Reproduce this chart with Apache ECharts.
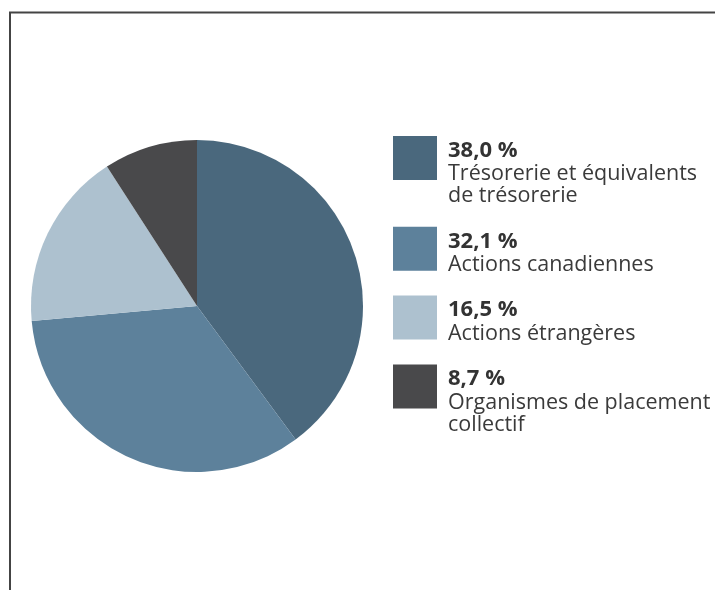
<!DOCTYPE html>
<html>
<head>
<meta charset="utf-8">
<script src="https://cdn.jsdelivr.net/npm/echarts@6/dist/echarts.min.js"></script>
<style>
html,body{margin:0;padding:0;background:#fff;}
#chart{width:715px;height:590px;}
</style>
</head>
<body>
<div id="chart"></div>
<script>
const categories = [
  ['Trésorerie et équivalents', 'de trésorerie'],
  ['Actions canadiennes'],
  ['Actions étrangères'],
  ['Organismes de placement', 'collectif']
];
const values = [38.0, 32.1, 16.5, 8.7];
const valueLabels = ['38,0 %', '32,1 %', '16,5 %', '8,7 %'];
const colors = ['#4a687d', '#5d819b', '#adc1cf', '#49494b'];

const chart = echarts.init(document.getElementById('chart'), null, {renderer: 'canvas'});

const FONT = '"Open Sans", sans-serif';
const legendX = 393, textX = 448, startY = 136, iconSize = 44;
const valueLH = 25, nameLH = 22, gap = 21.8;

const graphics = [
  {type: 'line', shape: {x1: 9, y1: 12.5, x2: 715, y2: 12.5}, style: {stroke: '#444', lineWidth: 2}},
  {type: 'line', shape: {x1: 10, y1: 12, x2: 10, y2: 590}, style: {stroke: '#444', lineWidth: 2}}
];
let y = startY;
categories.forEach((lines, i) => {
  graphics.push({type: 'rect', shape: {x: legendX, y: y, width: iconSize, height: iconSize}, style: {fill: colors[i]}});
  const txt = '{v|' + valueLabels[i] + '}\n' + lines.map(l => '{n|' + l + '}').join('\n');
  graphics.push({
    type: 'text', x: textX, y: y + 2,
    style: {
      text: txt, verticalAlign: 'top', align: 'left',
      rich: {
        v: {fontFamily: FONT, fontWeight: 'bold', fontSize: 22, lineHeight: valueLH, fill: '#333'},
        n: {fontFamily: FONT, fontSize: 21.5, lineHeight: nameLH, fill: '#3a3a3a'}
      }
    }
  });
  y += valueLH + lines.length * nameLH + gap;
});

chart.setOption({
  animation: false,
  backgroundColor: '#fff',
  color: colors,
  series: [{
    type: 'pie',
    center: [197, 306],
    radius: [0, 166],
    startAngle: 90,
    clockwise: true,
    label: {show: false},
    labelLine: {show: false},
    itemStyle: {borderWidth: 0},
    emphasis: {disabled: true},
    data: values.map((v, i) => ({name: categories[i].join(' '), value: v}))
  }],
  graphic: graphics
});
</script>
</body>
</html>
